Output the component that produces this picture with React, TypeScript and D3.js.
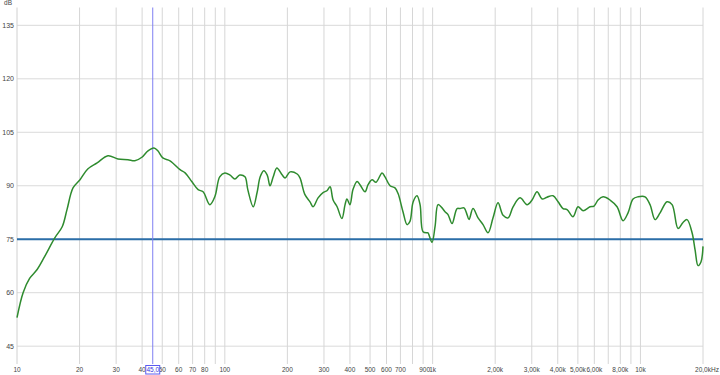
import React from "react";
import * as d3 from "d3";

const freqs = [10, 10.7, 11.5, 12.5, 13.6, 15.2, 16.5, 17.4, 18.6, 20.1, 21.9, 24.3, 27.4, 30.6, 34.2, 36.9, 39.9, 42.7, 45.6, 47.6, 50.3, 54.5, 60.9, 64.4, 69.5, 74.4, 78.6, 84.7, 89.6, 94.5, 100, 106, 111.8, 118, 125, 129, 137, 143, 148, 154, 160, 165, 171, 178, 189, 195, 206, 223, 230, 243, 257, 266, 281, 297, 310, 321, 332, 347, 366, 379, 387, 400, 414, 433, 447, 473, 489, 511, 534, 571, 590, 624, 659, 682, 720, 753, 778, 805, 841, 870, 899, 940, 950, 993, 1027, 1062, 1110, 1147, 1186, 1240, 1311, 1355, 1416, 1464, 1497, 1564, 1654, 1748, 1848, 1953, 2064, 2183, 2307, 2438, 2634, 2847, 3009, 3180, 3362, 3553, 3797, 4014, 4242, 4435, 4738, 5008, 5294, 5721, 5980, 6252, 6607, 7141, 7717, 8248, 8716, 9213, 9739, 10520, 11120, 11760, 12430, 13430, 14200, 15170, 16030, 16760, 17720, 18320, 18930, 19570, 20000];
const levels = [53, 60, 64, 66.5, 70.2, 75.4, 78.5, 83.3, 89.4, 91.7, 94.7, 96.4, 98.4, 97.5, 97.3, 97, 98, 99.8, 100.6, 99.8, 97.8, 97, 94.5, 93.6, 91.1, 88.9, 88.3, 84.7, 87, 92.5, 93.6, 93, 91.9, 93, 92.5, 88.9, 84.1, 88.1, 92.5, 94.2, 93, 90, 92.5, 95, 93, 92.2, 93.9, 93.3, 92.2, 87.5, 85.5, 84.1, 86.6, 88.1, 88.6, 89.7, 86, 84.1, 80.8, 84.7, 86.3, 84.7, 89, 91.2, 90.3, 88.3, 90.3, 91.7, 91, 93.6, 92.5, 90, 89.4, 87.8, 82.7, 79.1, 80, 85.4, 87.2, 84.7, 77.1, 76.8, 76.8, 74.1, 78.5, 84.7, 83.8, 82.7, 81.9, 79.4, 83.6, 83.6, 83.8, 81.9, 80.5, 83.6, 81, 79.1, 76.8, 81, 85.2, 81.7, 81, 84.1, 86.6, 84.7, 86, 88.3, 86.3, 86.8, 87.2, 85.5, 83.6, 83.3, 81.3, 84.1, 83, 84.1, 84.3, 86, 86.9, 86, 84.1, 80.2, 82.4, 86.3, 86.9, 86.9, 84.7, 80.5, 82.4, 85.5, 84.7, 78, 79.7, 80.5, 76.8, 72, 67.6, 68.7, 73];

const yTicks = [45, 60, 75, 90, 105, 120, 135];
const gridFreqs = [20, 30, 40, 50, 60, 70, 80, 90, 100, 200, 300, 400, 500, 600, 700, 800, 900, 1000, 2000, 3000, 4000, 5000, 6000, 7000, 8000, 9000, 10000, 20000];
const xLabelFreqs = [10, 20, 30, 40, 50, 60, 70, 80, 100, 200, 300, 400, 500, 600, 700, 900, 1000, 2000, 3000, 4000, 5000, 6000, 8000, 10000, 20000];
const xLabels = ["10", "20", "30", "40", "50", "60", "70", "80", "100", "200", "300", "400", "500", "600", "700", "900", "1k", "2,00k", "3,00k", "4,00k", "5,00k", "6,00k", "8,00k", "10k", "20,0kHz"];
const referenceLevel = 75;
const cursorFreq = 45;
const cursorLabel = "45,0";

export default function App() {
  const W = 720, H = 375;
  const x = d3.scaleLog().domain([10, 20000]).range([17, 703]);
  const y = d3.scaleLinear().domain([40, 140]).range([364, 7.5]);
  const pts = freqs.map((f, i) => [f, levels[i]] as [number, number]);
  const line = d3.line<[number, number]>().x(d => x(d[0])).y(d => y(d[1])).curve(d3.curveCatmullRom.alpha(0.5));
  const font = "'Liberation Sans', Arial, sans-serif";
  const cx = x(cursorFreq);
  return (
    <svg width={W} height={H} style={{ position: "absolute", left: 0, top: 0, background: "#fff" }} fontFamily={font}>
      <rect x={0} y={0} width={W} height={H} fill="#fff" />
      {yTicks.map(t => (
        <g key={"y" + t}>
          <line x1={17} x2={703} y1={y(t)} y2={y(t)} stroke="#dadada" strokeWidth={1} />
          <text x={14} y={y(t) + 2.5} fontSize={7} textAnchor="end" fill="#444">{t}</text>
        </g>
      ))}
      <line x1={17} x2={17} y1={7.5} y2={364} stroke="#d0d0d0" />
      {gridFreqs.map(f => (
        <line key={"g" + f} x1={x(f)} x2={x(f)} y1={7.5} y2={364} stroke="#d6d6d6" strokeWidth={1} />
      ))}
      {xLabelFreqs.map((f, i) => (
        <text key={"xl" + f} x={x(f) + (i === xLabels.length - 1 ? 4 : i === 15 ? 1.5 : 0)} y={372} fontSize={6.5} textAnchor="middle" fill="#444">{xLabels[i]}</text>
      ))}
      <text x={8} y={5} fontSize={6.5} textAnchor="middle" fill="#444">dB</text>
      <line x1={17} x2={703} y1={y(referenceLevel)} y2={y(referenceLevel)} stroke="#2b6ea8" strokeWidth={2} />
      <line x1={cx} x2={cx} y1={7.5} y2={364} stroke="#7f7ff2" strokeWidth={1} />
      <path d={line(pts) || ""} fill="none" stroke="#2e8b2e" strokeWidth={1.5} />
      <rect x={cx - 7} y={365.5} width={14} height={8.5} fill="#fff" stroke="#5a5af0" strokeWidth={1} />
      <text x={cx} y={372} fontSize={6.5} textAnchor="middle" fill="#3a3ae0">{cursorLabel}</text>
    </svg>
  );
}
